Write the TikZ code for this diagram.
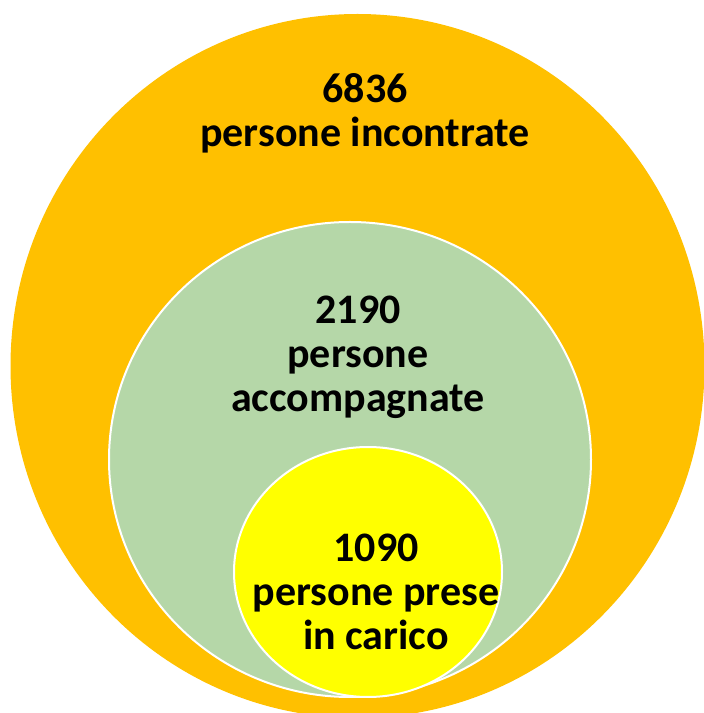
\documentclass[tikz,border=0pt]{standalone}
\usepackage{fontspec}
\setmainfont{Carlito}
\definecolor{arancio}{HTML}{FFC000}
\definecolor{verde}{HTML}{B5D7A8}
\definecolor{giallo}{HTML}{FFFF00}
\tikzset{
    cifra/.style={font=\fontsize{42}{44}\selectfont\bfseries, align=center, text=black, inner sep=0pt},
}
\begin{document}
\begin{tikzpicture}[x=1pt,y=1pt]
        \useasboundingbox (0,0) rectangle (704,713);
        \clip (0,0) rectangle (704,713);
        \fill[arancio] (357.5,347) ellipse [x radius=347, y radius=352];
        \draw[fill=verde, draw=white, line width=2pt] (350,253.5) ellipse [x radius=241, y radius=237.5];
        \draw[fill=giallo, draw=white, line width=2pt] (368,141) ellipse [x radius=134, y radius=125];

        \node[cifra] (incontrate) at (365,600) {6836\\persone incontrate};
        \node[cifra] (accompagnate) at (358,356) {2190\\persone\\accompagnate};
        \node[cifra] (carico) at (376,121) {1090\\persone prese\\in carico};
    \end{tikzpicture}
\end{document}
